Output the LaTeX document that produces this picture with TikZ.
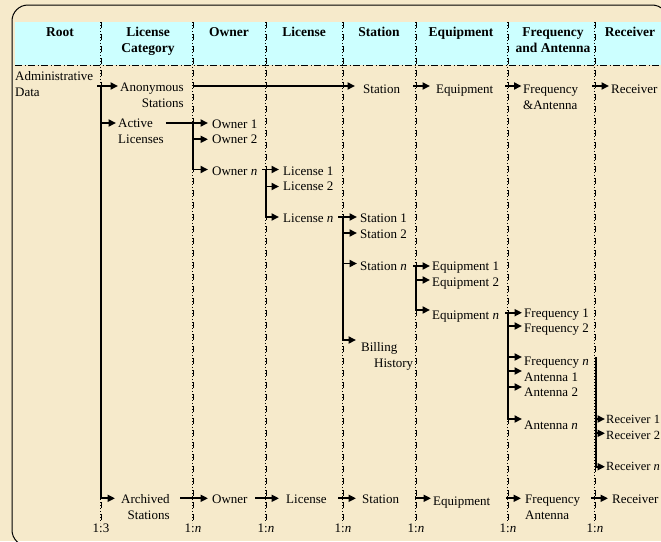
\documentclass[tikz,border=0pt]{standalone}
\usepackage{fontspec}
\setmainfont{Liberation Serif}
\usetikzlibrary{arrows.meta}
\definecolor{parch}{HTML}{F6EACB}
\definecolor{hdr}{HTML}{CCFFFF}
\tikzset{
  txt/.style={inner sep=0pt, anchor=west, font=\fontsize{13}{16}\selectfont, text depth=4pt},
  tht/.style={text height=#1},
  hd/.style={inner sep=0pt, anchor=base, align=center, font=\fontsize{13.5}{16}\selectfont\bfseries},
  ratio/.style={inner sep=0pt, anchor=base, font=\fontsize{13}{16}\selectfont},
  arr/.style={line width=1.9pt, -{Triangle[length=7.5pt,width=7pt]}, shorten >=#1},
  arr/.default=3pt,
  sepdot/.style={line width=0.6pt, dash pattern=on 0.8pt off 2.2pt},
  sepdash/.style={line width=0.9pt, dash pattern=on 6pt off 6pt},
  hsep/.style={line width=0.9pt, dash pattern=on 7pt off 2.5pt on 1pt off 2.5pt},
}
\begin{document}
\begin{tikzpicture}[x=1pt,y=-1pt]
\useasboundingbox (0,0) rectangle (661,541);
\clip (0,0) rectangle (661,541);
\fill[parch] (0,0) rectangle (661,541);
\fill[hdr] (15,22) rectangle (661,65);
\draw[line width=1pt, rounded corners=16pt] (12,5) rectangle (668,546);

% column separators
\foreach \x in {101,193,266,343,416,508,595}{
  \draw[sepdot] (\x-0.5,22) -- (\x-0.5,523);
  \draw[sepdash] (\x+0.5,22) -- (\x+0.5,523);
}
\draw[hsep] (15,65) -- (661,65);

\coordinate (s1) at (101,0);
\coordinate (s2) at (193,0);
\coordinate (s3) at (266,0);
\coordinate (s4) at (343,0);
\coordinate (s5) at (416,0);
\coordinate (s6) at (508,0);
\coordinate (s7) at (595,0);
\coordinate (rt) at (101,86);

% headers
\node[hd] (h1) at (60,36) {Root};
\node[hd] (h2) at (148,52) {License\\Category};
\node[hd] (h3) at (229,36) {Owner};
\node[hd] (h4) at (304,36) {License};
\node[hd] (h5) at (379,36) {Station};
\node[hd] (h6) at (461,36) {Equipment};
\node[hd] (h7) at (553,52) {Frequency\\and Antenna};
\node[hd] (h8) at (630,36) {Receiver};

% body
\node[txt, anchor=base west, align=left] (admin) at (15,96) {Administrative\\Data};
\node[txt,tht=46pt,align=right] (anon) at (120,86) {Anonymous\\Stations};
\node[txt,tht=18pt] (sta0) at (363,86) {Station};
\node[txt,tht=18pt] (eq0) at (436,86) {Equipment};
\node[txt,tht=50pt,align=left] (fa0) at (523,86) {Frequency\\\&Antenna};
\node[txt,tht=18pt] (r0) at (611,86) {Receiver};

\node[txt,tht=45.4pt,align=left] (active) at (118,123) {Active\\Licenses};
\node[txt,tht=14pt] (owner1) at (212,123) {Owner 1};
\node[txt,tht=12.8pt] (owner2) at (212,139.3) {Owner 2};
\node[txt,tht=16.4pt] (ownern) at (212,169.5) {Owner \textit{n}};
\node[txt,tht=15pt] (lic1) at (283,169.5) {License 1};
\node[txt,tht=12.4pt] (lic2) at (283,186.5) {License 2};
\node[txt,tht=15.4pt] (licn) at (283,217) {License \textit{n}};
\node[txt,tht=15.4pt] (sta1) at (360,217) {Station 1};
\node[txt,tht=15.4pt] (sta2) at (360,233) {Station 2};
\node[txt,tht=18pt] (stan) at (360,263.5) {Station \textit{n}};
\node[txt,tht=58pt,align=left] (billing) at (361,340) {Billing\\\hspace*{13pt}History};
\node[txt,tht=13pt] (eq1) at (432,266) {Equipment 1};
\node[txt,tht=17.4pt] (eq2) at (432,280) {Equipment 2};
\node[txt,tht=22pt] (eqn) at (432,310) {Equipment \textit{n}};
\node[txt,tht=13.2pt] (f1) at (524,312.7) {Frequency 1};
\node[txt,tht=17.4pt] (f2) at (524,326) {Frequency 2};
\node[txt,tht=20pt] (fn) at (524,357) {Frequency \textit{n}};
\node[txt,tht=24pt] (a1) at (524,371) {Antenna 1};
\node[txt,tht=22pt] (a2) at (524,387) {Antenna 2};
\node[txt,tht=24pt] (an) at (524,419) {Antenna \textit{n}};
\node[txt,tht=12pt,font=\fontsize{12.5}{16}\selectfont] (r1) at (606,419) {Receiver 1};
\node[txt,tht=16pt,font=\fontsize{12.5}{16}\selectfont] (r2) at (606,433.3) {Receiver 2};
\node[txt,tht=12pt,font=\fontsize{12.5}{16}\selectfont] (rn) at (606,466.7) {Receiver \textit{n}};

\node[txt,tht=46pt,align=right] (archived) at (121,498.3) {Archived\\Stations};
\node[txt,tht=14pt] (ownerA) at (212,498.3) {Owner};
\node[txt,tht=14pt] (licA) at (286,498.3) {License};
\node[txt,tht=14pt] (staA) at (362,498.3) {Station};
\node[txt,tht=18pt] (eqA) at (433,498.3) {Equipment};
\node[txt,tht=46pt,align=left] (faA) at (525,498.3) {Frequency\\Antenna};
\node[txt,tht=14pt] (rA) at (612,498.3) {Receiver};

% ratios
\node[ratio] (q1) at (101,532) {1:3};
\node[ratio] (q2) at (193,532) {1:\textit{n}};
\node[ratio] (q3) at (266,532) {1:\textit{n}};
\node[ratio] (q4) at (343,532) {1:\textit{n}};
\node[ratio] (q5) at (416,532) {1:\textit{n}};
\node[ratio] (q6) at (508,532) {1:\textit{n}};
\node[ratio] (q7) at (595,532) {1:\textit{n}};

% connectors
\draw[arr=2pt] ([xshift=-4pt]rt) -- (anon.west);
\draw[arr=2pt] (rt |- active.west) -- (active.west);
\draw[arr=6pt] (rt) |- (archived.west);
\draw[arr=8pt] (s2 |- anon.east) -- (sta0.west);
\draw[arr=6pt] ([xshift=-3pt]s5 |- sta0.east) -- (eq0.west);
\draw[arr=1.5pt] ([xshift=-3pt]s6 |- eq0.east) -- (fa0.west);
\draw[arr=2pt] ([xshift=-3pt]s7 |- fa0.east) -- (r0.west);

\draw[arr=4pt] ([xshift=2pt]active.east) -- (owner1.west);
\draw[arr=4pt] (s2 |- owner1.west) |- (ownern.west);
\draw[arr=4pt] (s2 |- owner2.west) -- (owner2.west);
\draw[arr=4pt] ([xshift=-4pt]s3 |- ownern.east) -- (lic1.west);
\draw[arr=4pt] (s3 |- lic1.west) |- (licn.west);
\draw[arr=4pt] (s3 |- lic2.west) -- (lic2.west);
\draw[arr=3pt] ([xshift=-5pt]s4 |- licn.east) -- (sta1.west);
\draw[arr=5pt] (s4 |- sta1.west) |- (billing.west);
\draw[arr=3pt] (s4 |- sta2.west) -- (sta2.west);
\draw[arr=3pt] (s4 |- stan.west) -- (stan.west);
\draw[arr=2pt] ([xshift=-3pt]s5 |- eq1.west) -- (eq1.west);
\draw[arr=2pt] (s5 |- eq1.west) |- (eqn.west);
\draw[arr=2pt] (s5 |- eq2.west) -- (eq2.west);
\draw[arr=2pt] ([xshift=-3pt]s6 |- f1.west) -- (f1.west);
\draw[arr=2pt] (s6 |- f1.west) |- (an.west);
\draw[arr=2pt] (s6 |- f2.west) -- (f2.west);
\draw[arr=2pt] (s6 |- fn.west) -- (fn.west);
\draw[arr=2pt] (s6 |- a1.west) -- (a1.west);
\draw[arr=2pt] (s6 |- a2.west) -- (a2.west);
\draw[arr=1pt] ([xshift=1pt]s7 |- fn.west) |- (rn.west);
\draw[arr=1pt] ([xshift=1pt]s7 |- r1.west) -- (r1.west);
\draw[arr=1pt] ([xshift=1pt]s7 |- r2.west) -- (r2.west);

\draw[arr=4pt] ([xshift=-13pt]s2 |- archived.east) -- (ownerA.west);
\draw[arr=7pt] ([xshift=-11pt]s3 |- ownerA.east) -- (licA.west);
\draw[arr=6pt] ([xshift=-5pt]s4 |- licA.east) -- (staA.west);
\draw[arr=2pt] ([xshift=-1pt]s5 |- staA.east) -- (eqA.west);
\draw[arr=4pt] ([xshift=-2pt]s6 |- eqA.east) -- (faA.west);
\draw[arr=4pt] ([xshift=-4pt]s7 |- faA.east) -- (rA.west);
\end{tikzpicture}
\end{document}
